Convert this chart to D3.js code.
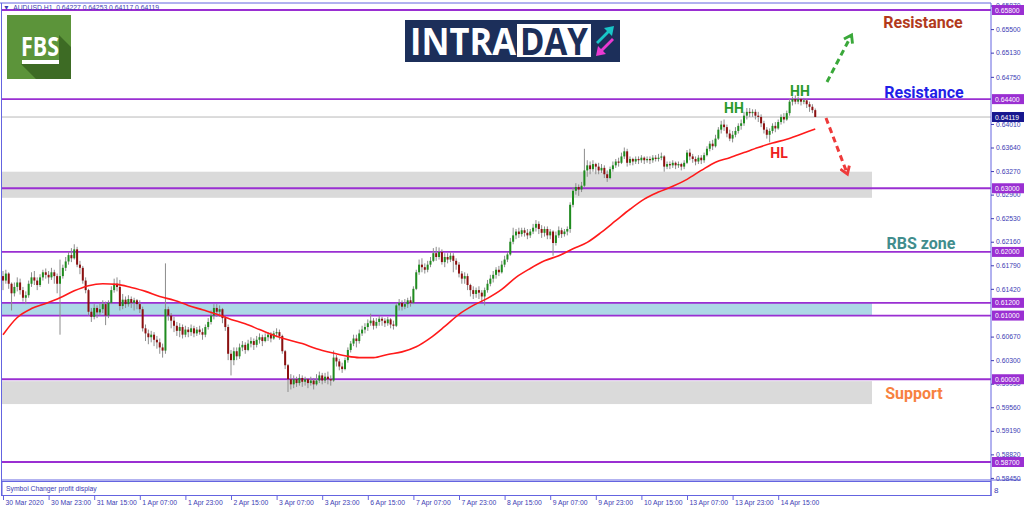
<!DOCTYPE html>
<html>
<head>
<meta charset="utf-8">
<script src="https://cdn.jsdelivr.net/npm/d3@7/dist/d3.min.js"></script>
<style>
  html, body { margin: 0; padding: 0; background: #fff; }
  svg { display: block; }
</style>
</head>
<body>
<div id="chart"></div>
<script>
// AUDUSD H1, 30 Mar 07:00 .. 15 Apr 05:00 (one entry per hourly bar)
const opens = [
  0.6162,0.6155,0.6166,0.6150,0.6135,0.6145,0.6152,0.6140,0.6128,0.6132,
  0.6150,0.6160,0.6155,0.6148,0.6160,0.6168,0.6164,0.6160,0.6168,0.6162,
  0.6150,0.6162,0.6175,0.6185,0.6195,0.6190,0.6204,0.6180,0.6175,0.6155,
  0.6140,0.6106,0.6098,0.6112,0.6105,0.6110,0.6118,0.6100,0.6120,0.6140,
  0.6150,0.6145,0.6115,0.6125,0.6118,0.6126,0.6120,0.6124,0.6118,0.6110,
  0.6080,0.6072,0.6066,0.6070,0.6062,0.6058,0.6050,0.6045,0.6110,0.6100,
  0.6092,0.6084,0.6076,0.6082,0.6070,0.6078,0.6074,0.6080,0.6072,0.6078,
  0.6074,0.6070,0.6082,0.6090,0.6100,0.6112,0.6106,0.6110,0.6096,0.6082,
  0.6040,0.6030,0.6044,0.6036,0.6050,0.6054,0.6046,0.6056,0.6060,0.6054,
  0.6062,0.6066,0.6060,0.6066,0.6070,0.6064,0.6072,0.6074,0.6068,0.6044,
  0.6022,0.6000,0.5992,0.6000,0.5994,0.6002,0.5996,0.6000,0.5994,0.5998,
  0.5992,0.5998,0.6006,0.5998,0.6004,0.6000,0.5998,0.6034,0.6028,0.6020,
  0.6016,0.6030,0.6046,0.6056,0.6064,0.6060,0.6072,0.6078,0.6082,0.6088,
  0.6092,0.6084,0.6090,0.6095,0.6092,0.6088,0.6094,0.6086,0.6084,0.6116,
  0.6120,0.6114,0.6118,0.6124,0.6120,0.6142,0.6168,0.6180,0.6176,0.6172,
  0.6180,0.6186,0.6198,0.6192,0.6200,0.6184,0.6192,0.6188,0.6194,0.6186,
  0.6180,0.6166,0.6158,0.6162,0.6148,0.6140,0.6134,0.6140,0.6136,0.6130,
  0.6140,0.6150,0.6158,0.6164,0.6172,0.6168,0.6180,0.6188,0.6196,0.6216,
  0.6226,0.6232,0.6228,0.6234,0.6230,0.6226,0.6232,0.6238,0.6244,0.6236,
  0.6230,0.6236,0.6226,0.6232,0.6214,0.6226,0.6234,0.6228,0.6232,0.6236,
  0.6274,0.6296,0.6302,0.6298,0.6304,0.6328,0.6336,0.6330,0.6338,0.6334,
  0.6328,0.6332,0.6322,0.6316,0.6330,0.6336,0.6342,0.6340,0.6350,0.6358,
  0.6340,0.6346,0.6342,0.6346,0.6344,0.6348,0.6344,0.6346,0.6344,0.6348,
  0.6346,0.6348,0.6350,0.6334,0.6338,0.6336,0.6340,0.6336,0.6338,0.6334,
  0.6340,0.6356,0.6350,0.6346,0.6342,0.6348,0.6344,0.6352,0.6362,0.6370,
  0.6366,0.6378,0.6392,0.6400,0.6396,0.6386,0.6378,0.6384,0.6390,0.6398,
  0.6402,0.6414,0.6420,0.6418,0.6420,0.6414,0.6412,0.6402,0.6392,0.6384,
  0.6390,0.6398,0.6394,0.6404,0.6412,0.6408,0.6418,0.6436,0.6440,0.6436,
  0.6440,0.6436,0.6438,0.6432,0.6428,0.64227
];
const highs = [
  0.6170,0.6172,0.6168,0.6152,0.6152,0.6160,0.6158,0.6145,0.6138,0.6155,
  0.6168,0.6170,0.6160,0.6165,0.6172,0.6174,0.6170,0.6175,0.6172,0.6166,
  0.6188,0.6180,0.6192,0.6200,0.6206,0.6212,0.6208,0.6186,0.6178,0.6160,
  0.6142,0.6112,0.6118,0.6116,0.6120,0.6124,0.6122,0.6124,0.6146,0.6158,
  0.6160,0.6156,0.6134,0.6130,0.6132,0.6130,0.6128,0.6126,0.6124,0.6114,
  0.6086,0.6078,0.6076,0.6074,0.6068,0.6064,0.6056,0.6182,0.6114,0.6104,
  0.6098,0.6090,0.6088,0.6086,0.6084,0.6082,0.6086,0.6084,0.6082,0.6084,
  0.6080,0.6086,0.6096,0.6108,0.6118,0.6118,0.6116,0.6112,0.6100,0.6086,
  0.6046,0.6050,0.6050,0.6056,0.6060,0.6058,0.6062,0.6066,0.6064,0.6068,
  0.6072,0.6070,0.6072,0.6074,0.6074,0.6076,0.6080,0.6078,0.6070,0.6046,
  0.6024,0.6008,0.6006,0.6004,0.6008,0.6006,0.6004,0.6002,0.6004,0.6002,
  0.6008,0.6012,0.6010,0.6010,0.6012,0.6006,0.6045,0.6038,0.6032,0.6026,
  0.6034,0.6050,0.6060,0.6070,0.6070,0.6078,0.6084,0.6088,0.6094,0.6103,
  0.6096,0.6096,0.6100,0.6098,0.6096,0.6098,0.6096,0.6092,0.6120,0.6126,
  0.6124,0.6126,0.6128,0.6130,0.6146,0.6172,0.6188,0.6190,0.6182,0.6186,
  0.6192,0.6206,0.6208,0.6207,0.6204,0.6198,0.6198,0.6200,0.6198,0.6190,
  0.6184,0.6170,0.6168,0.6166,0.6150,0.6146,0.6144,0.6146,0.6140,0.6144,
  0.6156,0.6164,0.6170,0.6176,0.6178,0.6186,0.6194,0.6200,0.6222,0.6238,
  0.6236,0.6238,0.6238,0.6238,0.6236,0.6236,0.6244,0.6250,0.6248,0.6242,
  0.6240,0.6240,0.6236,0.6234,0.6232,0.6240,0.6238,0.6236,0.6240,0.6278,
  0.6302,0.6308,0.6306,0.6310,0.6362,0.6344,0.6342,0.6344,0.6340,0.6340,
  0.6338,0.6336,0.6328,0.6334,0.6342,0.6346,0.6348,0.6356,0.6364,0.6362,
  0.6350,0.6348,0.6350,0.6350,0.6352,0.6350,0.6350,0.6350,0.6352,0.6352,
  0.6354,0.6356,0.6352,0.6342,0.6342,0.6344,0.6342,0.6342,0.6340,0.6344,
  0.6360,0.6362,0.6354,0.6350,0.6352,0.6352,0.6356,0.6366,0.6374,0.6376,
  0.6384,0.6396,0.6406,0.6408,0.6400,0.6392,0.6390,0.6396,0.6402,0.6408,
  0.6420,0.6426,0.6426,0.6424,0.6424,0.6420,0.6416,0.6406,0.6396,0.6394,
  0.6402,0.6404,0.6408,0.6416,0.6418,0.6422,0.6440,0.6444,0.6446,0.6444,
  0.6442,0.6442,0.6440,0.6436,0.6432,0.64253
];
const lows = [
  0.6140,0.6150,0.6142,0.6108,0.6130,0.6138,0.6133,0.6122,0.6118,0.6128,
  0.6145,0.6148,0.6140,0.6145,0.6155,0.6158,0.6150,0.6156,0.6150,0.6135,
  0.6070,0.6158,0.6170,0.6180,0.6184,0.6188,0.6176,0.6165,0.6150,0.6135,
  0.6100,0.6090,0.6094,0.6096,0.6100,0.6104,0.6085,0.6096,0.6118,0.6136,
  0.6138,0.6108,0.6110,0.6112,0.6114,0.6112,0.6108,0.6110,0.6104,0.6075,
  0.6060,0.6055,0.6058,0.6052,0.6048,0.6040,0.6034,0.6040,0.6092,0.6080,
  0.6074,0.6068,0.6066,0.6064,0.6066,0.6066,0.6068,0.6066,0.6068,0.6070,
  0.6062,0.6066,0.6078,0.6086,0.6094,0.6098,0.6098,0.6088,0.6076,0.6030,
  0.6006,0.6022,0.6030,0.6032,0.6044,0.6040,0.6044,0.6050,0.6046,0.6050,
  0.6056,0.6052,0.6058,0.6060,0.6058,0.6062,0.6066,0.6062,0.6040,0.6016,
  0.5980,0.5984,0.5986,0.5988,0.5990,0.5988,0.5990,0.5986,0.5990,0.5984,
  0.5990,0.5994,0.5992,0.5994,0.5992,0.5990,0.5996,0.6020,0.6014,0.6010,
  0.6014,0.6026,0.6042,0.6052,0.6050,0.6056,0.6068,0.6072,0.6076,0.6084,
  0.6078,0.6080,0.6084,0.6084,0.6082,0.6084,0.6080,0.6078,0.6082,0.6108,
  0.6108,0.6110,0.6112,0.6114,0.6118,0.6140,0.6164,0.6168,0.6166,0.6168,
  0.6176,0.6184,0.6186,0.6188,0.6180,0.6176,0.6182,0.6184,0.6168,0.6172,
  0.6160,0.6150,0.6150,0.6140,0.6130,0.6126,0.6128,0.6126,0.6122,0.6116,
  0.6136,0.6146,0.6152,0.6158,0.6162,0.6166,0.6176,0.6184,0.6194,0.6212,
  0.6220,0.6222,0.6224,0.6224,0.6220,0.6222,0.6228,0.6232,0.6228,0.6222,
  0.6224,0.6220,0.6220,0.6194,0.6210,0.6222,0.6222,0.6224,0.6226,0.6230,
  0.6270,0.6290,0.6288,0.6294,0.6302,0.6318,0.6322,0.6326,0.6322,0.6322,
  0.6324,0.6316,0.6310,0.6314,0.6326,0.6332,0.6334,0.6338,0.6346,0.6334,
  0.6336,0.6336,0.6338,0.6338,0.6340,0.6338,0.6340,0.6338,0.6340,0.6342,
  0.6342,0.6344,0.6326,0.6330,0.6330,0.6332,0.6330,0.6332,0.6328,0.6330,
  0.6338,0.6344,0.6340,0.6336,0.6338,0.6338,0.6340,0.6350,0.6358,0.6360,
  0.6364,0.6376,0.6386,0.6390,0.6380,0.6374,0.6372,0.6380,0.6386,0.6392,
  0.6398,0.6408,0.6412,0.6412,0.6408,0.6404,0.6396,0.6386,0.6378,0.6372,
  0.6386,0.6388,0.6392,0.6400,0.6402,0.6406,0.6414,0.6430,0.6432,0.6432,
  0.6430,0.6432,0.6426,0.6420,0.6418,0.64117
];
const closes = [
  0.6155,0.6166,0.6150,0.6135,0.6145,0.6152,0.6140,0.6128,0.6132,0.6150,
  0.6160,0.6155,0.6148,0.6160,0.6168,0.6164,0.6160,0.6168,0.6162,0.6150,
  0.6162,0.6175,0.6185,0.6195,0.6190,0.6204,0.6180,0.6175,0.6155,0.6140,
  0.6106,0.6098,0.6112,0.6105,0.6110,0.6118,0.6100,0.6120,0.6140,0.6150,
  0.6145,0.6115,0.6125,0.6118,0.6126,0.6120,0.6124,0.6118,0.6110,0.6080,
  0.6072,0.6066,0.6070,0.6062,0.6058,0.6050,0.6045,0.6110,0.6100,0.6092,
  0.6084,0.6076,0.6082,0.6070,0.6078,0.6074,0.6080,0.6072,0.6078,0.6074,
  0.6070,0.6082,0.6090,0.6100,0.6112,0.6106,0.6110,0.6096,0.6082,0.6040,
  0.6030,0.6044,0.6036,0.6050,0.6054,0.6046,0.6056,0.6060,0.6054,0.6062,
  0.6066,0.6060,0.6066,0.6070,0.6064,0.6072,0.6074,0.6068,0.6044,0.6022,
  0.6000,0.5992,0.6000,0.5994,0.6002,0.5996,0.6000,0.5994,0.5998,0.5992,
  0.5998,0.6006,0.5998,0.6004,0.6000,0.5998,0.6034,0.6028,0.6020,0.6016,
  0.6030,0.6046,0.6056,0.6064,0.6060,0.6072,0.6078,0.6082,0.6088,0.6092,
  0.6084,0.6090,0.6095,0.6092,0.6088,0.6094,0.6086,0.6084,0.6116,0.6120,
  0.6114,0.6118,0.6124,0.6120,0.6142,0.6168,0.6180,0.6176,0.6172,0.6180,
  0.6186,0.6198,0.6192,0.6200,0.6184,0.6192,0.6188,0.6194,0.6186,0.6180,
  0.6166,0.6158,0.6162,0.6148,0.6140,0.6134,0.6140,0.6136,0.6130,0.6140,
  0.6150,0.6158,0.6164,0.6172,0.6168,0.6180,0.6188,0.6196,0.6216,0.6226,
  0.6232,0.6228,0.6234,0.6230,0.6226,0.6232,0.6238,0.6244,0.6236,0.6230,
  0.6236,0.6226,0.6232,0.6214,0.6226,0.6234,0.6228,0.6232,0.6236,0.6274,
  0.6296,0.6302,0.6298,0.6304,0.6328,0.6336,0.6330,0.6338,0.6334,0.6328,
  0.6332,0.6322,0.6316,0.6330,0.6336,0.6342,0.6340,0.6350,0.6358,0.6340,
  0.6346,0.6342,0.6346,0.6344,0.6348,0.6344,0.6346,0.6344,0.6348,0.6346,
  0.6348,0.6350,0.6334,0.6338,0.6336,0.6340,0.6336,0.6338,0.6334,0.6340,
  0.6356,0.6350,0.6346,0.6342,0.6348,0.6344,0.6352,0.6362,0.6370,0.6366,
  0.6378,0.6392,0.6400,0.6396,0.6386,0.6378,0.6384,0.6390,0.6398,0.6402,
  0.6414,0.6420,0.6418,0.6420,0.6414,0.6412,0.6402,0.6392,0.6384,0.6390,
  0.6398,0.6394,0.6404,0.6412,0.6408,0.6418,0.6436,0.6440,0.6436,0.6440,
  0.6436,0.6438,0.6432,0.6428,0.64227,0.64119
];

// red moving average, read every 5 bars
const maBars = [0,5,10,15,20,25,30,35,40,45,50,55,60,65,70,75,80,85,90,95,
  100,105,110,115,120,125,130,135,140,145,150,155,160,165,170,175,180,185,190,195,
  200,205,210,215,220,225,230,235,240,245,250,255,260,265,270,275,280,285];
const maValues = [0.6070,0.6097,0.6111,0.6119,0.6128,0.6139,0.6147,0.6150,0.6149,0.6144,
  0.6138,0.6130,0.6124,0.6116,0.6109,0.6102,0.6094,0.6087,0.6078,0.6069,
  0.6062,0.6056,0.6048,0.6042,0.6037,0.6034,0.6034,0.6039,0.6043,0.6051,
  0.6065,0.6083,0.6102,0.6116,0.6127,0.6141,0.6160,0.6174,0.6186,0.6194,
  0.6205,0.6215,0.6231,0.6249,0.6267,0.6283,0.6294,0.6303,0.6314,0.6328,
  0.6341,0.6348,0.6356,0.6364,0.6371,0.6377,0.6385,0.6393];

// horizontal levels and zones
const levels = [0.658, 0.644, 0.630, 0.620, 0.612, 0.610, 0.600, 0.587];
const zoneTops = [0.6326, 0.6120, 0.5997];
const zoneBottoms = [0.6285, 0.6100, 0.5961];
const lastPrice = 0.64119;

// axis ticks (the ones hidden behind level tags are left out)
const priceTicks = [0.6587, 0.6550, 0.6513, 0.6475, 0.6401, 0.6364, 0.6327, 0.6290, 0.6253,
  0.6216, 0.6179, 0.6142, 0.6067, 0.6030, 0.5993, 0.5956, 0.5919, 0.5882, 0.5845];
const timeLabels = ["30 Mar 2020", "30 Mar 23:00", "31 Mar 15:00", "1 Apr 07:00", "1 Apr 23:00",
  "2 Apr 15:00", "3 Apr 07:00", "3 Apr 23:00", "6 Apr 15:00", "7 Apr 07:00", "7 Apr 23:00",
  "8 Apr 15:00", "9 Apr 07:00", "9 Apr 23:00", "10 Apr 15:00", "13 Apr 07:00", "13 Apr 23:00",
  "14 Apr 15:00"];

(function () {
  if (typeof d3 === 'undefined') {
    console.error("D3.js library not found!");
    return;
  }

  // 1. layout
  const W = 1024, H = 511;
  const LEFT = 2, RIGHT = 991, TOP = 3, BOTTOM = 480;
  const BAR_STEP = 2.85;   // px per hourly bar
  const ZONE_RIGHT = 872;
  const AXIS_FONT = "'Liberation Sans', Arial, sans-serif";
  const BOLD_FONT = "Roboto, 'Liberation Sans', sans-serif";
  const FRAME = "#6464e0";
  const AXIS_TEXT = "#3c3cb4";
  const VIOLET = "#9a2fd2";

  const bars = closes.map((c, i) => ({ i, o: opens[i], h: highs[i], l: lows[i], c }));

  const x = d3.scaleLinear().domain([0, bars.length - 1]).range([3, 3 + (bars.length - 1) * BAR_STEP]);
  const y = d3.scaleLinear().domain([0.587, 0.658]).range([462, 10]);

  const svg = d3.select("#chart").append("svg")
    .attr("width", W).attr("height", H)
    .style("font-family", AXIS_FONT);

  svg.append("rect").attr("width", W).attr("height", H).attr("fill", "#fff");

  const defs = svg.append("defs");
  defs.append("clipPath").attr("id", "plot-clip")
    .append("rect").attr("x", LEFT).attr("y", TOP).attr("width", RIGHT - LEFT).attr("height", BOTTOM - TOP);

  ["#3aa83a", "#ee3a3a"].forEach((col, k) => {
    defs.append("marker")
      .attr("id", "head" + k)
      .attr("viewBox", "0 0 10 10")
      .attr("refX", 6).attr("refY", 5)
      .attr("markerWidth", 12).attr("markerHeight", 12)
      .attr("markerUnits", "userSpaceOnUse")
      .attr("orient", "auto")
      .append("path")
      .attr("d", "M1,1 L7,5 L1,9")
      .attr("fill", "none")
      .attr("stroke", col)
      .attr("stroke-width", 2.4);
  });

  const plot = svg.append("g").attr("clip-path", "url(#plot-clip)");

  // 2. zones
  const zoneColors = ["#dadada", "#add8e6", "#dadada"];
  plot.append("g").selectAll("rect")
    .data(zoneTops)
    .enter().append("rect")
    .attr("x", LEFT)
    .attr("y", d => y(d))
    .attr("width", ZONE_RIGHT - LEFT)
    .attr("height", (d, k) => y(zoneBottoms[k]) - y(d))
    .attr("fill", (d, k) => zoneColors[k]);

  // 3. levels + bid line
  plot.append("g").selectAll("line")
    .data(levels)
    .enter().append("line")
    .attr("x1", LEFT).attr("x2", RIGHT)
    .attr("y1", d => y(d)).attr("y2", d => y(d))
    .attr("stroke", VIOLET)
    .attr("stroke-width", 1.8);

  plot.append("line")
    .attr("x1", LEFT).attr("x2", RIGHT)
    .attr("y1", y(lastPrice)).attr("y2", y(lastPrice))
    .attr("stroke", "#b8b8b8");

  // 4. candles
  const candle = plot.append("g").selectAll("g")
    .data(bars)
    .enter().append("g");

  candle.append("line")
    .attr("x1", d => x(d.i)).attr("x2", d => x(d.i))
    .attr("y1", d => y(d.h)).attr("y2", d => y(d.l))
    .attr("stroke", "#8c8c8c")
    .attr("stroke-width", 1);

  candle.append("rect")
    .attr("x", d => x(d.i) - 1)
    .attr("width", 2)
    .attr("y", d => y(Math.max(d.o, d.c)))
    .attr("height", d => Math.max(1, Math.abs(y(d.o) - y(d.c))))
    .attr("fill", d => d.c >= d.o ? "#1f8c1f" : "#8c1010");

  // 5. moving average
  const ma = maBars.map((b, k) => [b, maValues[k]]);
  plot.append("path")
    .datum(ma)
    .attr("fill", "none")
    .attr("stroke", "#ff1a1a")
    .attr("stroke-width", 1.6)
    .attr("d", d3.line().x(d => x(d[0])).y(d => y(d[1])).curve(d3.curveMonotoneX));

  // 6. frame
  svg.append("line").attr("x1", 0).attr("x2", RIGHT).attr("y1", TOP).attr("y2", TOP).attr("stroke", FRAME);
  svg.append("line").attr("x1", LEFT - 0.5).attr("x2", LEFT - 0.5).attr("y1", TOP).attr("y2", 496).attr("stroke", FRAME);
  svg.append("line").attr("x1", RIGHT).attr("x2", RIGHT).attr("y1", TOP).attr("y2", 496).attr("stroke", FRAME);
  svg.append("line").attr("x1", LEFT).attr("x2", RIGHT + 30).attr("y1", BOTTOM).attr("y2", BOTTOM).attr("stroke", FRAME);
  svg.append("rect")
    .attr("x", LEFT).attr("y", 481.5).attr("width", RIGHT - LEFT).attr("height", 14)
    .attr("fill", "none").attr("stroke", FRAME);
  svg.append("text").attr("x", 6).attr("y", 491)
    .attr("font-size", 6.8).attr("fill", AXIS_TEXT)
    .text("Symbol Changer profit display");
  svg.append("text").attr("x", 994).attr("y", 493)
    .attr("font-size", 8).attr("fill", AXIS_TEXT).text("8");

  // header
  svg.append("text").attr("x", 3).attr("y", 9.5)
    .attr("font-size", 6.8).attr("fill", AXIS_TEXT)
    .attr("xml:space", "preserve")
    .text("\u25BC  AUDUSD,H1  0.64227 0.64253 0.64117 0.64119");

  // 7. price axis
  const yAxis = d3.axisRight(y)
    .tickValues(priceTicks)
    .tickFormat(d3.format(".5f"))
    .tickSize(3)
    .tickPadding(2);

  svg.append("g")
    .attr("transform", `translate(${RIGHT},0)`)
    .call(yAxis)
    .call(g => g.select(".domain").remove())
    .call(g => g.selectAll("line").attr("stroke", AXIS_TEXT))
    .call(g => g.selectAll("text").attr("font-size", 6.8).attr("fill", AXIS_TEXT).attr("font-family", AXIS_FONT));

  // level tags
  const tags = svg.append("g");
  const tagData = levels.map(v => ({ v, bg: VIOLET })).concat([{ v: lastPrice, bg: "#16168e" }]);
  tags.selectAll("rect")
    .data(tagData)
    .enter().append("rect")
    .attr("x", RIGHT + 1)
    .attr("y", d => y(d.v) - 5)
    .attr("width", W - RIGHT - 1)
    .attr("height", 10)
    .attr("fill", d => d.bg);
  tags.selectAll("text")
    .data(tagData)
    .enter().append("text")
    .attr("x", RIGHT + 4)
    .attr("y", d => y(d.v) + 2.5)
    .attr("font-size", 6.8)
    .attr("fill", "#fff")
    .text(d => d3.format(".5f")(d.v));

  // 8. time axis
  const xAxis = d3.axisBottom(x)
    .tickValues(d3.range(0, bars.length, 16))
    .tickFormat((d, k) => timeLabels[k])
    .tickSize(4)
    .tickPadding(2);

  svg.append("g")
    .attr("transform", "translate(0,496)")
    .call(xAxis)
    .call(g => g.select(".domain").remove())
    .call(g => g.selectAll("line").attr("stroke", FRAME))
    .call(g => g.selectAll("text")
      .attr("font-size", 6.8)
      .attr("fill", AXIS_TEXT)
      .attr("font-family", AXIS_FONT)
      .attr("text-anchor", "start")
      .attr("dx", 2)
      .attr("dy", "0.45em"));

  // 9. annotations
  const notes = [
    { t: "Resistance", x: 923, y: 28, c: "#b23a1c", s: 16 },
    { t: "Resistance", x: 924, y: 98, c: "#1f1fe8", s: 16 },
    { t: "RBS zone", x: 921, y: 249, c: "#418d8d", s: 16 },
    { t: "Support", x: 914, y: 399, c: "#f7823f", s: 16 },
    { t: "HH", x: 734, y: 113, c: "#2a9a2a", s: 14 },
    { t: "HH", x: 800, y: 96, c: "#2a9a2a", s: 14 },
    { t: "HL", x: 779, y: 158, c: "#ee2020", s: 14 }
  ];
  svg.append("g").selectAll("text")
    .data(notes)
    .enter().append("text")
    .attr("x", d => d.x).attr("y", d => d.y)
    .attr("text-anchor", "middle")
    .attr("font-family", BOLD_FONT)
    .attr("font-weight", "bold")
    .attr("font-size", d => d.s)
    .attr("fill", d => d.c)
    .text(d => d.t);

  // dashed arrows
  svg.append("line")
    .attr("x1", 827).attr("y1", 82).attr("x2", 851).attr("y2", 36)
    .attr("stroke", "#3aa83a").attr("stroke-width", 3)
    .attr("stroke-dasharray", "6,4")
    .attr("marker-end", "url(#head0)");
  svg.append("line")
    .attr("x1", 826).attr("y1", 118).attr("x2", 847).attr("y2", 173)
    .attr("stroke", "#ee3a3a").attr("stroke-width", 3)
    .attr("stroke-dasharray", "6,4")
    .attr("marker-end", "url(#head1)");

  // 10. FBS logo
  const fbs = svg.append("g").attr("transform", "translate(7,15)");
  fbs.append("rect").attr("width", 64).attr("height", 64).attr("fill", "#5c943a");
  fbs.append("path")
    .attr("d", "M52,20 L64,32 L64,64 L29,64 L14,49 L52,49 Z")
    .attr("fill", "#3d6b24");
  fbs.append("text")
    .attr("x", 14).attr("y", 41)
    .attr("font-family", "'Open Sans', 'Liberation Sans', sans-serif")
    .attr("font-weight", "bold")
    .attr("font-size", 27)
    .attr("textLength", 38)
    .attr("lengthAdjust", "spacingAndGlyphs")
    .attr("fill", "#fff")
    .text("FBS");
  fbs.append("rect").attr("x", 15).attr("y", 45).attr("width", 37).attr("height", 4).attr("fill", "#fff");

  // INTRADAY logo
  const logo = svg.append("g").attr("transform", "translate(405,20)");
  logo.append("rect").attr("width", 215).attr("height", 42).attr("fill", "#1c2f5a");
  logo.append("text")
    .attr("x", 5).attr("y", 35)
    .attr("font-family", "'Open Sans', 'Liberation Sans', sans-serif")
    .attr("font-weight", "bold")
    .attr("font-size", 37)
    .attr("textLength", 106)
    .attr("lengthAdjust", "spacingAndGlyphs")
    .attr("fill", "#fff")
    .text("INTRA");
  logo.append("rect").attr("x", 112).attr("y", 4).attr("width", 74).attr("height", 33).attr("fill", "#fff");
  logo.append("text")
    .attr("x", 115).attr("y", 35)
    .attr("font-family", "'Open Sans', 'Liberation Sans', sans-serif")
    .attr("font-weight", "bold")
    .attr("font-size", 37)
    .attr("textLength", 68)
    .attr("lengthAdjust", "spacingAndGlyphs")
    .attr("fill", "#1c2f5a")
    .text("DAY");
  // two arrows
  logo.append("path")
    .attr("d", "M191,22 L202,11 L199,8 L209,6 L207,16 L204,13 L193,24 Z")
    .attr("fill", "#18c6c8");
  logo.append("path")
    .attr("d", "M209,20 L198,31 L201,34 L191,36 L193,26 L196,29 L207,18 Z")
    .attr("fill", "#ea3ad2");
})();
</script>
</body>
</html>
